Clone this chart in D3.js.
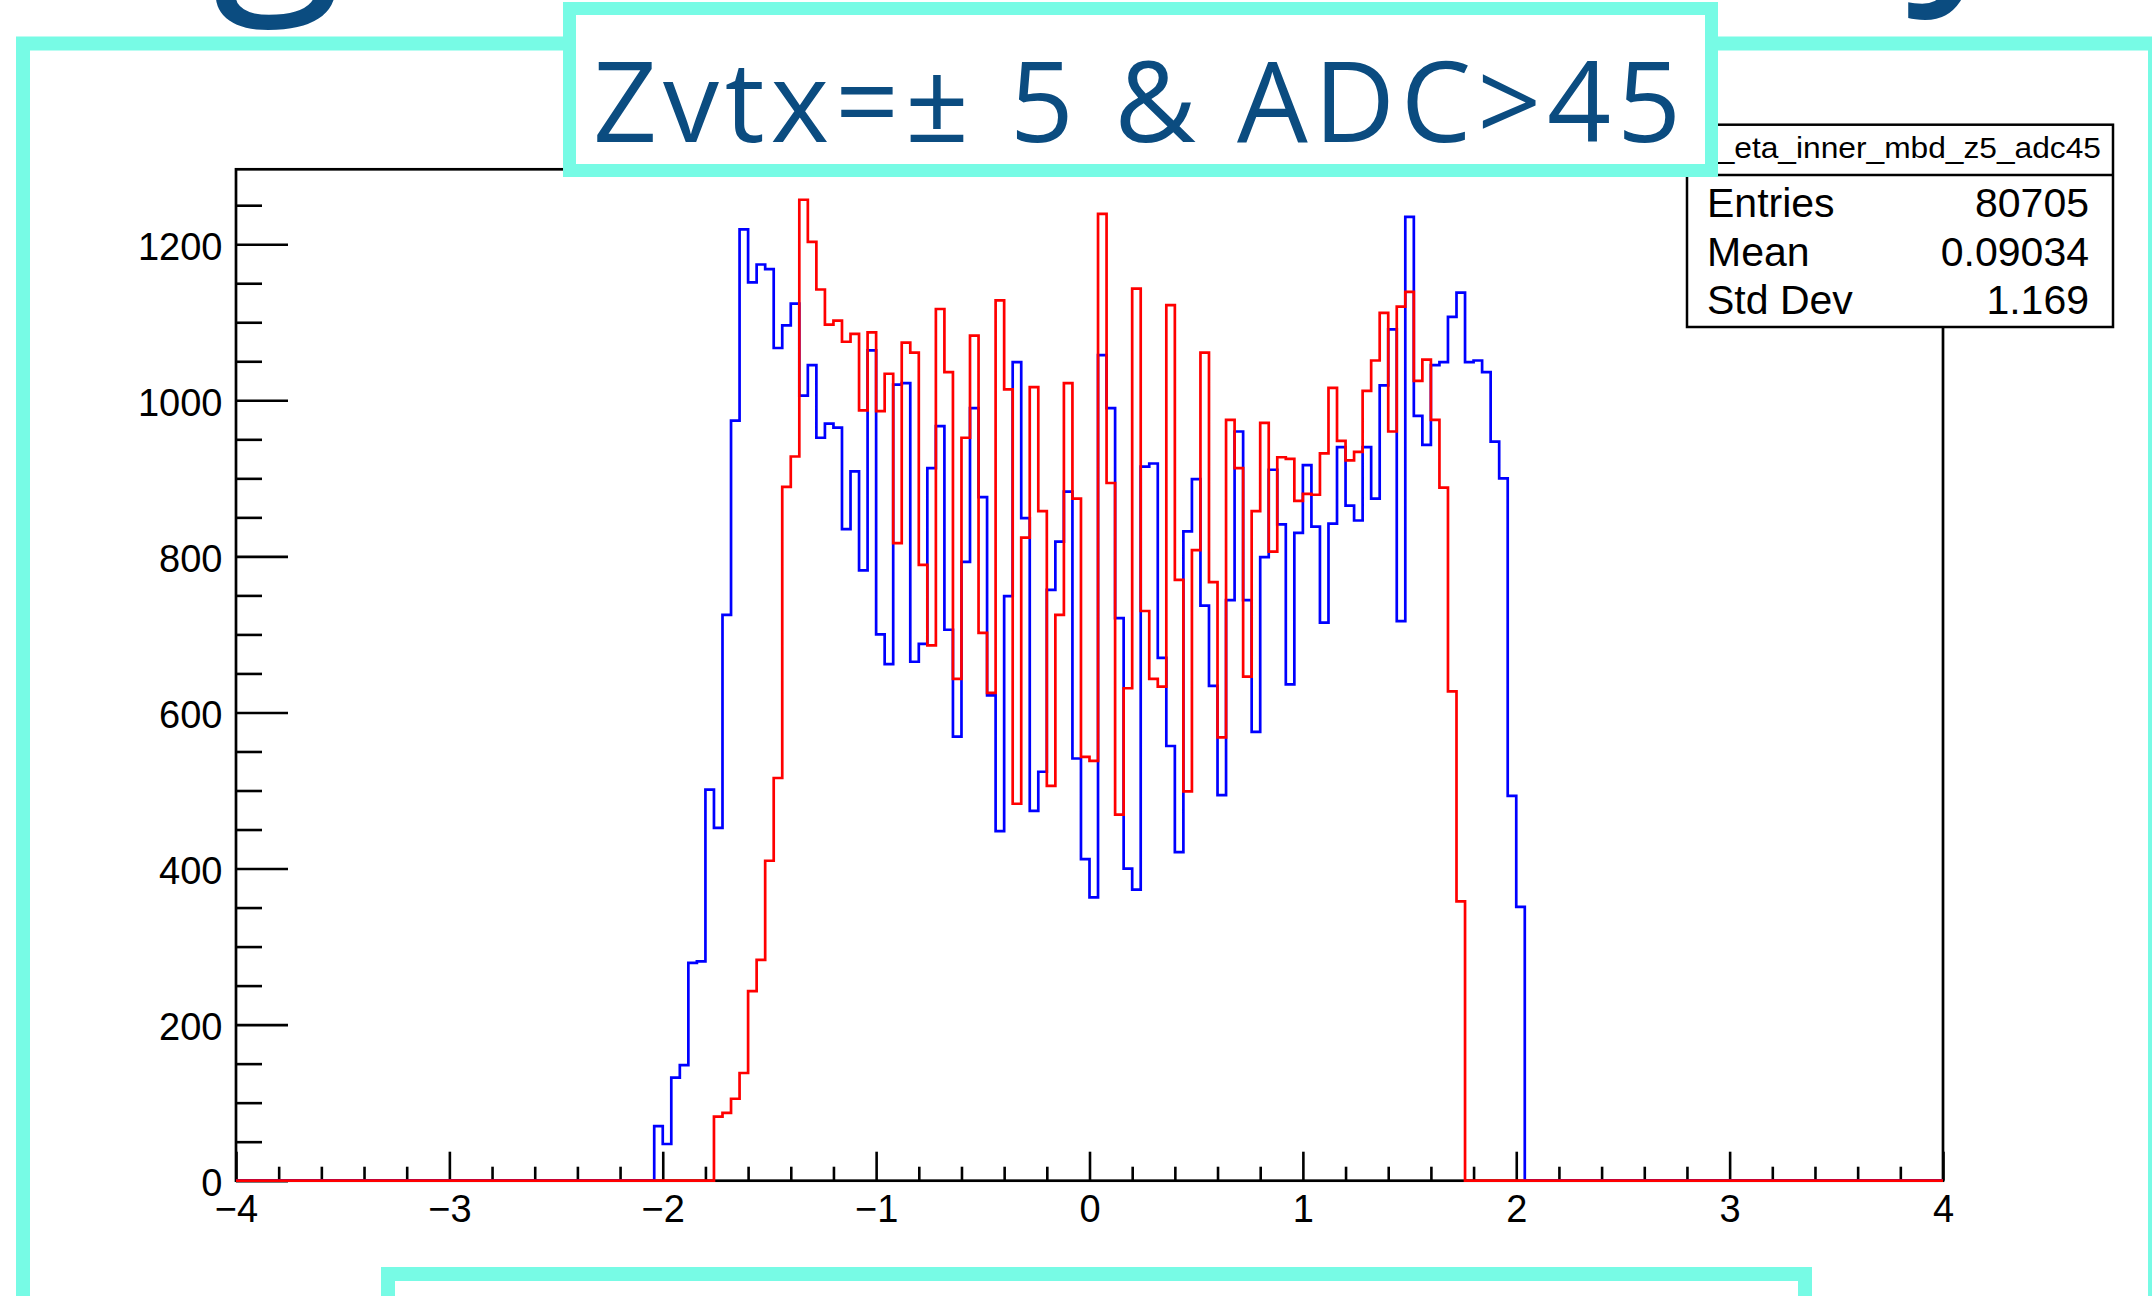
<!DOCTYPE html>
<html>
<head>
<meta charset="utf-8">
<script src="https://cdn.jsdelivr.net/npm/d3@7"></script>
<style>
  body { margin: 0; background: #ffffff; }
  svg { display: block; }
</style>
</head>
<body>
<div id="chart"></div>
<script>
// Histogram binning (ROOT TH1: 200 bins over [-4, 4])
const xMin = -4, xMax = 4, nBins = 200;
const binWidth = (xMax - xMin) / nBins;

// Blue histogram: non-empty bins from -2.04 to 2.00 (left edges)
const blueStart = -2.04;
const blueCounts = [
  70, 47, 132, 148, 279, 281, 501, 452, 725, 974,
  1219, 1151, 1174, 1168, 1067, 1096, 1124, 1006, 1045, 952,
  970, 965, 835, 909, 782, 1064, 700, 662, 1020, 1022,
  665, 688, 913, 967, 706, 569, 793, 990, 876, 622,
  448, 749, 1049, 849, 474, 524, 757, 819, 883, 541,
  412, 363, 1058, 990, 721, 400, 373, 915, 919, 670,
  557, 421, 832, 899, 737, 634, 494, 744, 960, 744,
  575, 799, 911, 841, 636, 830, 917, 838, 715, 842,
  940, 865, 846, 940, 874, 1019, 1091, 717, 1235, 980,
  943, 1045, 1049, 1107, 1138, 1049, 1051, 1036, 947, 900,
  493, 351
];

// Red histogram: non-empty bins from -1.76 to 1.72 (left edges)
const redStart = -1.76;
const redCounts = [
  82, 87, 105, 138, 243, 283, 410, 516, 889, 928,
  1257, 1203, 1142, 1097, 1102, 1075, 1085, 987, 1087, 986,
  1034, 817, 1074, 1061, 789, 686, 1117, 1036, 643, 952,
  1083, 702, 625, 1128, 1014, 483, 824, 1017, 858, 506,
  725, 1022, 874, 543, 538, 1239, 894, 469, 631, 1143,
  730, 643, 633, 1122, 770, 499, 808, 1061, 767, 568,
  975, 913, 646, 858, 971, 806, 927, 925, 871, 880,
  879, 932, 1016, 948, 923, 934, 1012, 1051, 1112, 960,
  1120, 1139, 1025, 1052, 975, 888, 627, 358
];

// Axis ticks
const xMajorTicks = [-4, -3, -2, -1, 0, 1, 2, 3, 4];
const yMajorTicks = [0, 200, 400, 600, 800, 1000, 1200];
const yMax = 1296;

// Stats box and slide texts
const statsTitle = "h_eta_inner_mbd_z5_adc45";
const statsRows = [["Entries", "80705"], ["Mean", "0.09034"], ["Std Dev", "1.169"]];
const slideTitle = "Zvtx=\u00b1 5 & ADC>45";

const width = 2152, height = 1296;
const frame = {left: 236, right: 1943, top: 169.3, bottom: 1180.7};
const cyan = "#77fbe5";
const navy = "#0b4c80";

const svg = d3.select("#chart").append("svg")
    .attr("width", width)
    .attr("height", height);

// Slide decoration: outer cyan frame and cut-off heading glyphs
svg.append("rect")
    .attr("x", 23).attr("y", 43.5)
    .attr("width", 2132).attr("height", 1400)
    .attr("fill", "none")
    .attr("stroke", cyan)
    .attr("stroke-width", 14);

svg.append("text")
    .attr("x", 212).attr("y", -28)
    .attr("fill", navy)
    .style("font-family", "'Open Sans', sans-serif")
    .style("font-size", "240px")
    .text("g");

svg.append("text")
    .attr("x", 1906).attr("y", -38)
    .attr("fill", navy)
    .style("font-family", "'Open Sans', sans-serif")
    .style("font-size", "240px")
    .text("y");

// Scales
const x = d3.scaleLinear().domain([xMin, xMax]).range([frame.left, frame.right]);
const y = d3.scaleLinear().domain([0, yMax]).range([frame.bottom, frame.top]);

const plot = svg.append("g");

// White pad
plot.append("rect")
    .attr("x", frame.left).attr("y", frame.top)
    .attr("width", frame.right - frame.left)
    .attr("height", frame.bottom - frame.top)
    .attr("fill", "#ffffff");

// Y axis: major ticks with labels, minor ticks
const yMinorTicks = d3.range(50, yMax, 50).filter(v => v % 200 !== 0);

const yAxisMajor = plot.append("g")
    .attr("transform", `translate(${frame.left},0)`)
    .call(d3.axisLeft(y).tickValues(yMajorTicks).tickFormat(d3.format("d"))
        .tickSize(-52).tickPadding(13.5));

plot.append("g")
    .attr("transform", `translate(${frame.left},0)`)
    .call(d3.axisLeft(y).tickValues(yMinorTicks).tickSize(-26).tickFormat(""));

// X axis: major ticks with labels, minor ticks
const xMinorTicks = d3.range(-3.8, 4, 0.2).filter(v => Math.abs(v - Math.round(v)) > 0.01);

const xAxisMajor = plot.append("g")
    .attr("transform", `translate(0,${frame.bottom})`)
    .call(d3.axisBottom(x).tickValues(xMajorTicks).tickFormat(d3.format("d"))
        .tickSize(-29).tickPadding(14));

plot.append("g")
    .attr("transform", `translate(0,${frame.bottom})`)
    .call(d3.axisBottom(x).tickValues(xMinorTicks).tickSize(-14).tickFormat(""));

plot.selectAll(".domain").remove();
plot.selectAll(".tick line")
    .attr("stroke", "#000")
    .attr("stroke-width", 2.6);

yAxisMajor.selectAll("text")
    .attr("dy", "0.4em")
    .style("font-family", "'Liberation Sans', Arial, sans-serif")
    .style("font-size", "38px")
    .attr("fill", "#000");

xAxisMajor.selectAll("text")
    .style("font-family", "'Liberation Sans', Arial, sans-serif")
    .style("font-size", "38px")
    .attr("fill", "#000");

// Frame
plot.append("rect")
    .attr("x", frame.left).attr("y", frame.top)
    .attr("width", frame.right - frame.left)
    .attr("height", frame.bottom - frame.top)
    .attr("fill", "none")
    .attr("stroke", "#000")
    .attr("stroke-width", 2.7);

// Build the step outline of a histogram over the full axis range
function histPoints(start, counts) {
    const offset = Math.round((start - xMin) / binWidth);
    const pts = [];
    for (let i = 0; i < nBins; i++) {
        const lo = xMin + i * binWidth;
        const j = i - offset;
        const c = (j >= 0 && j < counts.length) ? counts[j] : 0;
        pts.push([lo, c], [lo + binWidth, c]);
    }
    return pts;
}

const histLine = d3.line()
    .x(d => x(d[0]))
    .y(d => y(d[1]));

plot.append("path")
    .datum(histPoints(blueStart, blueCounts))
    .attr("fill", "none")
    .attr("stroke", "#0000ff")
    .attr("stroke-width", 2.7)
    .attr("d", histLine);

plot.append("path")
    .datum(histPoints(redStart, redCounts))
    .attr("fill", "none")
    .attr("stroke", "#ff0000")
    .attr("stroke-width", 2.7)
    .attr("d", histLine);

// Stats box
const stats = svg.append("g");
stats.append("rect")
    .attr("x", 1687).attr("y", 124.7)
    .attr("width", 426).attr("height", 202.3)
    .attr("fill", "#ffffff")
    .attr("stroke", "#000")
    .attr("stroke-width", 2.5);

stats.append("line")
    .attr("x1", 1687).attr("x2", 2113)
    .attr("y1", 175).attr("y2", 175)
    .attr("stroke", "#000")
    .attr("stroke-width", 2.5);

stats.append("text")
    .attr("x", 1900).attr("y", 158)
    .attr("text-anchor", "middle")
    .attr("textLength", 402)
    .attr("lengthAdjust", "spacingAndGlyphs")
    .style("font-family", "'Liberation Sans', Arial, sans-serif")
    .style("font-size", "29px")
    .text(statsTitle);

stats.selectAll("text.label")
    .data(statsRows)
    .join("text")
    .attr("class", "label")
    .attr("x", 1707)
    .attr("y", (d, i) => 216.7 + i * 48.8)
    .style("font-family", "'Liberation Sans', Arial, sans-serif")
    .style("font-size", "41px")
    .text(d => d[0]);

stats.selectAll("text.value")
    .data(statsRows)
    .join("text")
    .attr("class", "value")
    .attr("x", 2089)
    .attr("y", (d, i) => 216.7 + i * 48.8)
    .attr("text-anchor", "end")
    .style("font-family", "'Liberation Sans', Arial, sans-serif")
    .style("font-size", "41px")
    .text(d => d[1]);

// Title box on the slide
svg.append("rect")
    .attr("x", 569.5).attr("y", 8.5)
    .attr("width", 1142).attr("height", 162)
    .attr("fill", "#ffffff")
    .attr("stroke", cyan)
    .attr("stroke-width", 13);

svg.append("text")
    .attr("x", 593).attr("y", 142)
    .attr("textLength", 1088)
    .attr("lengthAdjust", "spacing")
    .attr("fill", navy)
    .style("font-family", "'Open Sans', sans-serif")
    .style("font-size", "112px")
    .text(slideTitle);

// Bottom box on the slide
svg.append("rect")
    .attr("x", 388).attr("y", 1274)
    .attr("width", 1417).attr("height", 100)
    .attr("fill", "#ffffff")
    .attr("stroke", cyan)
    .attr("stroke-width", 14);
</script>
</body>
</html>
